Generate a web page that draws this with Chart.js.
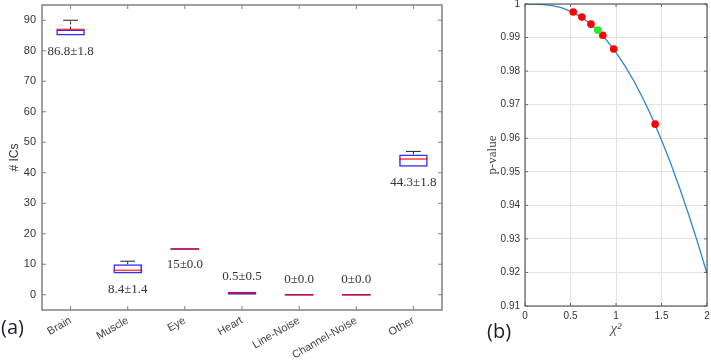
<!DOCTYPE html>
<html><head><meta charset="utf-8">
<script src="https://cdn.jsdelivr.net/npm/chart.js@4"></script>
<style>
html,body{margin:0;padding:0;background:#fff;width:711px;height:361px;overflow:hidden;position:relative}
#wa{position:absolute;left:0;top:0;width:446px;height:361px}
#wb{position:absolute;left:480px;top:0;width:231px;height:361px}
.pl{position:absolute;font-family:"Open Sans","Noto Sans",sans-serif;font-size:20px;line-height:24px;color:#1c1c2c}
</style></head><body>
<div id="wa"><canvas id="ca" width="446" height="361"></canvas></div>
<div id="wb"><canvas id="cb" width="231" height="361"></canvas></div>
<div class="pl" style="left:1px;top:315px">(a)</div>
<div class="pl" style="left:487px;top:319px">(b)</div>
<script>
// ---- Panel (a): box plot of # ICs per category ----
const categories = ['Brain','Muscle','Eye','Heart','Line-Noise','Channel-Noise','Other'];
const whiskerLow  = [85, 7, 15, 0, 0, 0, 42];
const q1          = [85, 7, 15, 0, 0, 0, 42];
const median      = [87, 8, 15, 0.5, 0, 0, 44.5];
const q3          = [87, 10, 15, 1, 0, 0, 46];
const whiskerHigh = [90, 11, 15, 1, 0, 0, 47];
const meanStd     = ['86.8±1.8','8.4±1.4','15±0.0','0.5±0.5','0±0.0','0±0.0','44.3±1.8'];
const yTicksA     = [0,10,20,30,40,50,60,70,80,90];

// ---- Panel (b): p-value vs chi-square ----
const chiSq  = [0,0.1,0.2,0.3,0.4,0.5,0.6,0.7,0.8,0.9,1.0,1.1,1.2,1.3,1.4,1.5,1.6,1.7,1.8,1.9,2.0];
const pValue = [1.0000,1.0000,0.9998,0.9995,0.9989,0.9978,0.9964,0.9945,0.9921,0.9891,0.9856,0.9815,0.9769,0.9717,0.9659,0.9595,0.9526,0.9451,0.9371,0.9287,0.9197];
const redX   = [0.53,0.625,0.725,0.855,0.975,1.43];
const redY   = [0.9976,0.9961,0.9940,0.9907,0.9866,0.9642];
const greenX = [0.80];
const greenY = [0.9922];
const xTicksB = [0,0.5,1,1.5,2];
const yTicksB = [0.91,0.92,0.93,0.94,0.95,0.96,0.97,0.98,0.99,1];

Chart.defaults.font.family = '"Liberation Sans", Arial, sans-serif';

const boxPlugin = {
  id: 'boxExtras',
  afterDatasetsDraw(chart) {
    const {ctx, chartArea: ca, scales: {x, y}} = chart;
    const band = x.width / categories.length;
    const half = band * 0.25, cap = band * 0.13;
    ctx.save();
    categories.forEach((c, i) => {
      const cx = x.getPixelForValue(i);
      const pq1 = y.getPixelForValue(q1[i]), pq3 = y.getPixelForValue(q3[i]);
      const pm = y.getPixelForValue(median[i]);
      const pwl = y.getPixelForValue(whiskerLow[i]), pwh = y.getPixelForValue(whiskerHigh[i]);
      if (q3[i] === q1[i]) {
        ctx.strokeStyle = '#3030ff'; ctx.lineWidth = 1.5;
        ctx.beginPath(); ctx.moveTo(cx - half, pq1); ctx.lineTo(cx + half, pq1); ctx.stroke();
      }
      ctx.strokeStyle = '#222'; ctx.lineWidth = 1;
      if (whiskerHigh[i] > q3[i]) {
        ctx.setLineDash([3, 2]);
        ctx.beginPath(); ctx.moveTo(cx, pq3); ctx.lineTo(cx, pwh); ctx.stroke();
        ctx.setLineDash([]);
        ctx.beginPath(); ctx.moveTo(cx - cap, pwh); ctx.lineTo(cx + cap, pwh); ctx.stroke();
      }
      if (whiskerLow[i] < q1[i]) {
        ctx.setLineDash([3, 2]);
        ctx.beginPath(); ctx.moveTo(cx, pq1); ctx.lineTo(cx, pwl); ctx.stroke();
        ctx.setLineDash([]);
        ctx.beginPath(); ctx.moveTo(cx - cap, pwl); ctx.lineTo(cx + cap, pwl); ctx.stroke();
      }
      ctx.strokeStyle = 'rgba(255,0,0,0.75)'; ctx.lineWidth = 1.5;
      ctx.beginPath(); ctx.moveTo(cx - half, pm); ctx.lineTo(cx + half, pm); ctx.stroke();
      ctx.font = '13px "Liberation Serif", "Times New Roman", serif';
      ctx.fillStyle = '#333'; ctx.textAlign = 'center'; ctx.textBaseline = 'middle';
      const ly = q1[i] < 3 ? pq3 - 15 : pq1 + 16;
      ctx.fillText(meanStd[i], cx, ly);
    });
    // frame
    ctx.strokeStyle = '#808080'; ctx.lineWidth = 1.5;
    ctx.strokeRect(ca.left, ca.top, ca.right - ca.left, ca.bottom - ca.top);
    ctx.lineWidth = 1;
    yTicksA.forEach(v => {
      const py = y.getPixelForValue(v);
      ctx.beginPath();
      ctx.moveTo(ca.left, py); ctx.lineTo(ca.left + 4, py);
      ctx.moveTo(ca.right, py); ctx.lineTo(ca.right - 4, py);
      ctx.stroke();
    });
    categories.forEach((c, i) => {
      const px = x.getPixelForValue(i);
      ctx.beginPath();
      ctx.moveTo(px, ca.bottom); ctx.lineTo(px, ca.bottom - 4);
      ctx.moveTo(px, ca.top); ctx.lineTo(px, ca.top + 4);
      ctx.stroke();
    });
    ctx.restore();
  }
};

new Chart(document.getElementById('ca'), {
  type: 'bar',
  data: {
    labels: categories,
    datasets: [{
      data: q1.map((v, i) => [v, q3[i]]),
      backgroundColor: 'rgba(255,255,255,0)',
      borderColor: '#3030ff',
      borderWidth: 1.5,
      borderSkipped: false,
      barPercentage: 0.5,
      categoryPercentage: 1.0
    }]
  },
  options: {
    responsive: false, animation: false, devicePixelRatio: 1,
    layout: {padding: {left: 0, right: 4, top: 5, bottom: 0}},
    plugins: {legend: {display: false}, tooltip: {enabled: false}},
    scales: {
      x: {
        offset: true,
        grid: {display: false, drawTicks: false}, border: {display: false},
        ticks: {maxRotation: 30, minRotation: 30, autoSkip: false, padding: 4, color: '#444', font: {size: 11}},
        afterFit(s) { s.height = 51; s.paddingLeft = 0; s.paddingRight = 0; }
      },
      y: {
        min: -5, max: 95,
        afterBuildTicks(s) { s.ticks = yTicksA.map(v => ({value: v})); },
        grid: {display: false, drawTicks: false}, border: {display: false},
        ticks: {padding: 6, color: '#333', font: {size: 11}},
        title: {display: true, text: '# ICs', color: '#333', font: {size: 12}, padding: {top: 7, bottom: 0}},
        afterFit(s) { s.width = 42; s.paddingTop = 0; s.paddingBottom = 0; }
      }
    }
  },
  plugins: [boxPlugin]
});

const framePluginB = {
  id: 'frameB',
  afterDatasetsDraw(chart) {
    const {ctx, chartArea: ca, scales: {x, y}} = chart;
    ctx.save();
    ctx.strokeStyle = '#404040'; ctx.lineWidth = 1;
    ctx.strokeRect(ca.left, ca.top, ca.right - ca.left, ca.bottom - ca.top);
    ctx.strokeStyle = '#666';
    yTicksB.forEach(v => {
      const py = y.getPixelForValue(v);
      ctx.beginPath();
      ctx.moveTo(ca.left, py); ctx.lineTo(ca.left + 3, py);
      ctx.moveTo(ca.right, py); ctx.lineTo(ca.right - 3, py);
      ctx.stroke();
    });
    xTicksB.forEach(v => {
      const px = x.getPixelForValue(v);
      ctx.beginPath();
      ctx.moveTo(px, ca.bottom); ctx.lineTo(px, ca.bottom - 3);
      ctx.moveTo(px, ca.top); ctx.lineTo(px, ca.top + 3);
      ctx.stroke();
    });
    ctx.restore();
  }
};

const fmt = v => String(+(+v).toFixed(2));

new Chart(document.getElementById('cb'), {
  type: 'scatter',
  data: {
    datasets: [
      {type: 'line', data: chiSq.map((v, i) => ({x: v, y: pValue[i]})), borderColor: '#2e86d0', borderWidth: 1.3, pointRadius: 0, fill: false, tension: 0, order: 3},
      {data: redX.map((v, i) => ({x: v, y: redY[i]})), backgroundColor: '#ff0000', borderWidth: 0, pointRadius: 3.8, order: 2},
      {data: greenX.map((v, i) => ({x: v, y: greenY[i]})), backgroundColor: '#22ee22', borderWidth: 0, pointRadius: 3.8, order: 1}
    ]
  },
  options: {
    responsive: false, animation: false, devicePixelRatio: 1,
    layout: {padding: {left: 0, right: 3, top: 4, bottom: 0}},
    plugins: {legend: {display: false}, tooltip: {enabled: false}},
    scales: {
      x: {
        type: 'linear', min: 0, max: 2,
        afterBuildTicks(s) { s.ticks = xTicksB.map(v => ({value: v})); },
        grid: {color: '#e2e2e2', drawTicks: false}, border: {display: false},
        ticks: {padding: 4, color: '#333', font: {size: 10}, callback: fmt},
        title: {display: true, text: 'χ²', color: '#555', font: {family: '"Liberation Serif", serif', size: 15, style: 'italic'}, padding: {top: 0, bottom: 23}},
        afterFit(s) { s.height = 55; s.paddingLeft = 0; s.paddingRight = 0; }
      },
      y: {
        min: 0.91, max: 1,
        afterBuildTicks(s) { s.ticks = yTicksB.map(v => ({value: v})); },
        grid: {color: '#e2e2e2', drawTicks: false}, border: {display: false},
        ticks: {padding: 5, color: '#333', font: {size: 10}, callback: fmt},
        title: {display: true, text: 'p-value', color: '#444', font: {family: '"Liberation Serif", serif', size: 13}, padding: {top: 5, bottom: 0}},
        afterFit(s) { s.width = 45; s.paddingTop = 0; s.paddingBottom = 0; }
      }
    }
  },
  plugins: [framePluginB]
});
</script>
</body></html>
